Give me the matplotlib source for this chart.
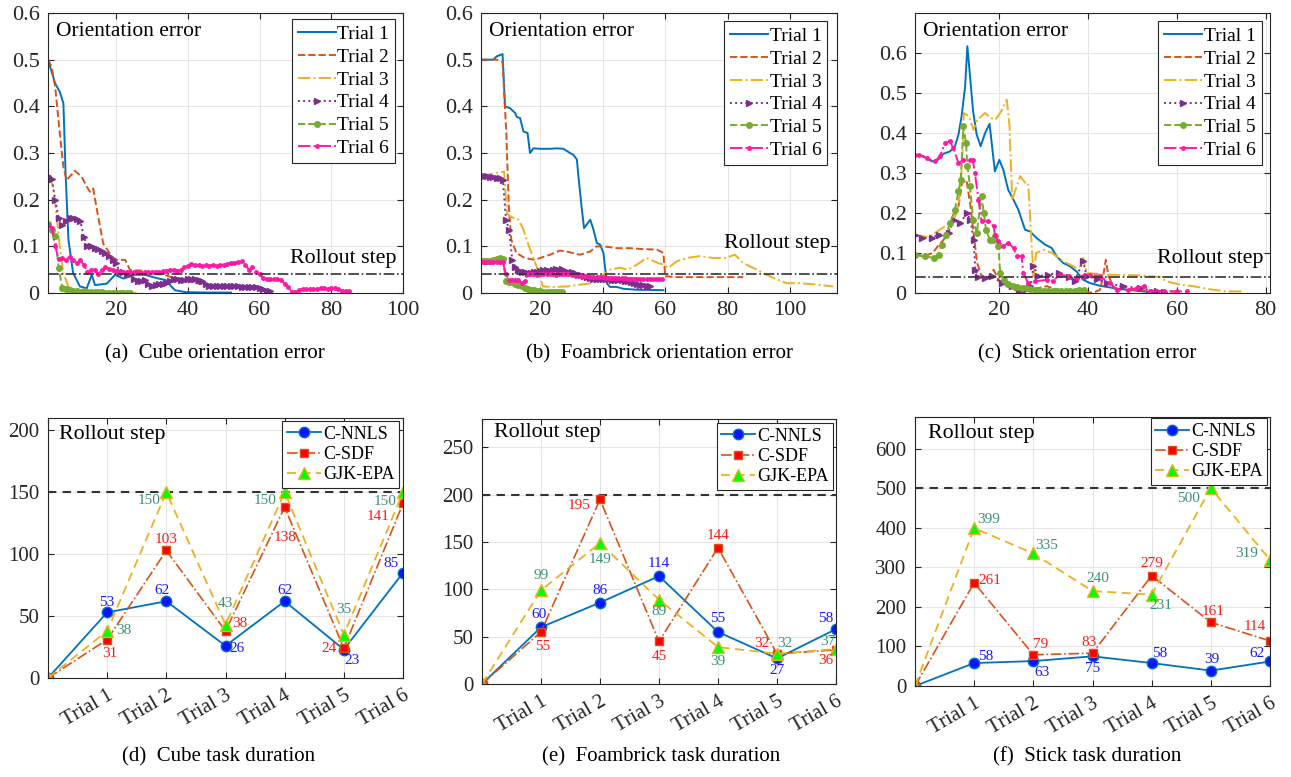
import matplotlib
matplotlib.use('Agg')
import matplotlib.pyplot as plt
import numpy as np

plt.rcParams['font.family'] = ['Liberation Serif', 'DejaVu Serif']

W, H = 1291, 777

trial_names = ['Trial 1', 'Trial 2', 'Trial 3', 'Trial 4', 'Trial 5', 'Trial 6']

# ---------- (a) cube orientation error ----------
cube_t1_x = [1, 3, 4.3, 5.3, 5.9, 6.7, 8, 9.9, 11.8, 13.2, 14.1, 17.4, 19.7, 22, 25.3, 28, 31.8, 33.7, 36.4, 39.2, 45, 52]
cube_t1_y = [0.5, 0.449, 0.431, 0.406, 0.257, 0.114, 0.043, 0.014, 0.01, 0.039, 0.017, 0.02, 0.039, 0.031, 0.039, 0.039,
             0.031, 0.028, 0.006, 0.002, 0.001, 0.001]
cube_t2_x = [1, 2, 3, 4.1, 5.3, 6.2, 8.5, 10.4, 11.8, 12.7, 13.6, 15, 16.4, 18.8, 20.2, 22.5, 23.9, 27, 30, 33, 37, 40,
             43, 48, 52, 57, 61]
cube_t2_y = [0.5, 0.485, 0.442, 0.356, 0.27, 0.242, 0.262, 0.249, 0.228, 0.217, 0.224, 0.163, 0.106, 0.078, 0.071, 0.071,
             0.049, 0.048, 0.04, 0.04, 0.03, 0.025, 0.02, 0.015, 0.015, 0.013, 0.008]
cube_t3_x = [1, 2.5, 3.4, 4.3, 5.3, 6.7, 8.6, 12, 18, 26]
cube_t3_y = [0.25, 0.228, 0.163, 0.099, 0.042, 0.014, 0.004, 0.002, 0.001, 0.001]
cube_t4_y = [0.25, 0.245, 0.2, 0.16, 0.145, 0.155, 0.16, 0.16, 0.158, 0.155, 0.12, 0.1, 0.1, 0.097, 0.095, 0.09, 0.085,
             0.08, 0.07, 0.065, 0.045, 0.045, 0.04, 0.04, 0.03, 0.025, 0.025, 0.028, 0.02, 0.015, 0.018, 0.02, 0.02,
             0.022, 0.025, 0.03, 0.03, 0.028, 0.028, 0.03, 0.03, 0.03, 0.028, 0.025, 0.02, 0.015, 0.015, 0.015, 0.015,
             0.014, 0.014, 0.015, 0.014, 0.014, 0.013, 0.013, 0.013, 0.012, 0.012, 0.01, 0.008, 0.005, 0.005]
cube_t5_y = [0.147, 0.136, 0.122, 0.053, 0.01, 0.008, 0.006, 0.004, 0.004, 0.003, 0.004, 0.003, 0.002, 0.002, 0.002,
             0.002, 0.001, 0.001, 0.001, 0.001, 0.001, 0.001, 0.001, 0.001]
cube_t6_y = [0.145, 0.14, 0.1, 0.072, 0.075, 0.07, 0.078, 0.07, 0.065, 0.07, 0.06, 0.045, 0.05, 0.05, 0.04, 0.05, 0.055,
             0.052, 0.05, 0.048, 0.045, 0.045, 0.044, 0.045, 0.044, 0.045, 0.043, 0.045, 0.044, 0.045, 0.046, 0.045,
             0.047, 0.048, 0.05, 0.05, 0.048, 0.05, 0.055, 0.058, 0.062, 0.06, 0.06, 0.058, 0.06, 0.058, 0.06, 0.058,
             0.06, 0.06, 0.062, 0.065, 0.065, 0.066, 0.068, 0.06, 0.05, 0.055, 0.045, 0.04, 0.032, 0.03, 0.03, 0.03,
             0.03, 0.028, 0.02, 0.012, 0.003, 0.002, 0.006, 0.008, 0.008, 0.009, 0.008, 0.009, 0.01, 0.01, 0.009, 0.01,
             0.01, 0.008, 0.005, 0.005, 0.005]

# ---------- (b) foambrick orientation error ----------
foam_t1_x = [1, 5, 6, 7.9, 8.7, 10.3, 11.9, 12.5, 13.5, 14.6, 15.9, 16.7, 17.8, 19.9, 23.1, 25.3, 27.4, 29.5, 30.6,
             31.7, 32.2, 33.3, 34, 36, 37, 38.1, 39.1, 40.2, 41.3, 42.3, 44.5, 46.6, 50.9, 59.4]
foam_t1_y = [0.5, 0.5, 0.507, 0.512, 0.4, 0.396, 0.386, 0.377, 0.375, 0.346, 0.343, 0.3, 0.31, 0.309, 0.309, 0.31, 0.309,
             0.3, 0.296, 0.286, 0.25, 0.179, 0.139, 0.157, 0.136, 0.107, 0.104, 0.086, 0.021, 0.013, 0.013, 0.009,
             0.007, 0.006]
foam_t2_x = [1, 6, 7.9, 9.1, 9.9, 10.7, 12.3, 15, 18.2, 19.9, 23.1, 26.3, 29, 32.7, 36, 38, 40.2, 44.5, 48.8, 53, 57.3,
             59.4, 60, 63.7, 70, 80.8, 85]
foam_t2_y = [0.5, 0.5, 0.495, 0.343, 0.186, 0.114, 0.086, 0.075, 0.071, 0.075, 0.082, 0.091, 0.088, 0.082, 0.089, 0.1,
             0.1, 0.096, 0.096, 0.094, 0.093, 0.086, 0.036, 0.034, 0.034, 0.034, 0.034]
foam_t3_x = [1, 5.5, 8.4, 9.3, 10.4, 13, 14.6, 16, 17.6, 19.6, 20.8, 24.2, 28.5, 32.7, 37, 38, 40.2, 42.3, 45.5, 48, 51,
             54, 57.8, 59.4, 61, 63.7, 66.9, 71, 75.4, 79.1, 82.3, 85, 89.3, 92.5, 95.7, 98.9, 103.2, 108.5, 113.8]
foam_t3_y = [0.25, 0.257, 0.26, 0.171, 0.164, 0.157, 0.136, 0.107, 0.078, 0.043, 0.014, 0.013, 0.014, 0.018, 0.021, 0.03,
             0.039, 0.05, 0.054, 0.05, 0.061, 0.075, 0.064, 0.061, 0.054, 0.068, 0.075, 0.079, 0.075, 0.075, 0.082,
             0.064, 0.05, 0.039, 0.029, 0.021, 0.021, 0.018, 0.014]
foam_t4_y = [0.25, 0.25, 0.25, 0.249, 0.248, 0.247, 0.246, 0.243, 0.157, 0.136, 0.071, 0.055, 0.05, 0.046, 0.044, 0.043,
             0.043, 0.044, 0.046, 0.048, 0.05, 0.049, 0.048, 0.05, 0.051, 0.05, 0.052, 0.048, 0.046, 0.045, 0.042,
             0.039, 0.038, 0.036, 0.035, 0.033, 0.031, 0.031, 0.03, 0.03, 0.029, 0.029, 0.028, 0.028, 0.027, 0.027,
             0.026, 0.025, 0.024, 0.022, 0.02, 0.018, 0.017, 0.016, 0.015]
foam_t5_y = [0.068, 0.068, 0.069, 0.069, 0.07, 0.072, 0.074, 0.072, 0.025, 0.024, 0.023, 0.02, 0.017, 0.014, 0.011,
             0.009, 0.007, 0.006, 0.005, 0.004, 0.003, 0.003, 0.002, 0.002, 0.002, 0.002, 0.002]
foam_t6_y = [0.067, 0.067, 0.067, 0.067, 0.067, 0.067, 0.067, 0.066, 0.04, 0.028, 0.027, 0.027, 0.028, 0.022, 0.025,
             0.04, 0.041, 0.04, 0.039, 0.04, 0.04, 0.041, 0.04, 0.04, 0.039, 0.04, 0.041, 0.04, 0.04, 0.039, 0.038,
             0.038, 0.037, 0.036, 0.036, 0.035, 0.035, 0.034, 0.034, 0.034, 0.033, 0.033, 0.033, 0.032, 0.032, 0.032,
             0.032, 0.031, 0.031, 0.031, 0.031, 0.03, 0.03, 0.03, 0.03, 0.03, 0.03, 0.03, 0.03]

# ---------- (c) stick orientation error ----------
stick_t1_x = [1, 2.9, 4.8, 6.2, 7.4, 8.9, 10, 10.8, 11.5, 12.3, 12.8, 13.4, 14.1, 14.9, 15.8, 16.8, 17.8, 19, 20, 20.9,
              22, 23.2, 24.3, 25.8, 26.9, 28.4, 30.3, 31.8, 32.9, 34.4, 35.9, 37.4, 38.9, 40.4, 42.7, 45.7, 48.7, 52.5,
              55.5]
stick_t1_y = [0.346, 0.342, 0.329, 0.333, 0.348, 0.354, 0.367, 0.396, 0.442, 0.517, 0.617, 0.542, 0.454, 0.396, 0.367,
              0.4, 0.423, 0.304, 0.333, 0.308, 0.258, 0.233, 0.208, 0.158, 0.154, 0.1375, 0.121, 0.1125, 0.092, 0.075,
              0.067, 0.054, 0.033, 0.025, 0.018, 0.0125, 0.008, 0.004, 0.0]
stick_t2_x = [1, 3, 5, 6, 8, 9.7, 10.8, 11.6, 12.6, 13.5, 14.2, 15, 16, 17.2, 18.7, 20, 21.7, 23.2, 27, 30.7, 33, 37,
              41.2, 42.7, 43.4, 44, 44.6, 46, 47.2, 50, 55, 60]
stick_t2_y = [0.095, 0.092, 0.1, 0.115, 0.14, 0.183, 0.217, 0.275, 0.283, 0.217, 0.15, 0.075, 0.042, 0.033, 0.058, 0.03,
              0.017, 0.008, 0.008, 0.017, 0.008, 0.002, 0.001, 0.008, 0.042, 0.083, 0.042, 0.01, 0.017, 0.008, 0.005,
              0.003]
stick_t3_x = [1, 4, 6, 7.8, 9.7, 10.8, 11.6, 12, 13.1, 14.2, 15, 16.8, 18, 19.1, 20.2, 21.7, 22.3, 22.9, 24.7, 25.9,
              26.5, 27.4, 27.7, 28.3, 30, 31.9, 33.4, 35.2, 37.4, 38.2, 38.9, 39.7, 44.2, 51.7, 56.2, 57.7, 60.7, 63.7,
              68.2, 71.2, 75]
stick_t3_y = [0.145, 0.14, 0.154, 0.167, 0.183, 0.22, 0.317, 0.45, 0.442, 0.408, 0.433, 0.45, 0.438, 0.433, 0.45, 0.483,
              0.417, 0.233, 0.292, 0.275, 0.275, 0.1, 0.042, 0.1, 0.108, 0.1, 0.087, 0.075, 0.0625, 0.067, 0.088, 0.05,
              0.046, 0.044, 0.04, 0.029, 0.021, 0.017, 0.008, 0.004, 0.004]
stick_t4_x = [1, 2.6, 4.8, 6.3, 8.6, 9.7, 11.2, 12.7, 13.5, 14.2, 14.6, 15.3, 16.8, 18.3, 20.6, 22.9, 24.4, 25.9, 27,
              27.7, 28.8, 31, 33.4, 35.6, 37, 38.9, 39.7, 42, 44.2, 47.9, 51.7, 55.5, 57]
stick_t4_y = [0.146, 0.1375, 0.1375, 0.146, 0.15, 0.183, 0.175, 0.2, 0.183, 0.133, 0.058, 0.04, 0.038, 0.042, 0.025,
              0.017, 0.004, 0.008, 0.017, 0.067, 0.042, 0.046, 0.05, 0.04, 0.03, 0.08, 0.042, 0.035, 0.025, 0.017, 0.012,
              0.004, 0.003]
stick_t5_x = [1, 3.3, 5.2, 6.3, 7, 8, 8.9, 10, 10.8, 11.3, 11.9, 12.5, 12.8, 13.4, 14.1, 14.9, 16, 16.5, 17, 17.9, 18.5,
              19, 19.8, 20.2, 21, 22, 23, 24, 25, 26, 27, 28, 29, 30, 31, 32, 33, 34, 35, 36, 37, 38, 39]
stick_t5_y = [0.096, 0.092, 0.0875, 0.096, 0.121, 0.146, 0.175, 0.208, 0.254, 0.283, 0.417, 0.375, 0.317, 0.267, 0.183,
              0.15, 0.242, 0.2, 0.158, 0.133, 0.133, 0.142, 0.117, 0.05, 0.033, 0.022, 0.017, 0.015, 0.013, 0.012, 0.01,
              0.008, 0.007, 0.006, 0.006, 0.006, 0.006, 0.006, 0.006, 0.006, 0.006, 0.007, 0.007]
stick_t6_x = [1, 2, 3.6, 5.5, 6.6, 7.8, 8.9, 9.6, 10.8, 11.9, 13.4, 14, 14.5, 15.3, 16, 17.5, 18.7, 19, 19.8, 20.9, 22,
              23.2, 23.9, 25, 25.4, 26.5, 28, 30.7, 32, 33.7, 35.6, 37.4, 38.9, 40.4, 42.7, 44.9, 46.5, 49, 51, 52.5, 54,
              57, 60, 62.2]
stick_t6_y = [0.346, 0.344, 0.3375, 0.329, 0.342, 0.375, 0.379, 0.363, 0.325, 0.333, 0.332, 0.333, 0.3, 0.233, 0.179,
              0.179, 0.167, 0.146, 0.129, 0.117, 0.125, 0.1125, 0.092, 0.092, 0.05, 0.025, 0.029, 0.033, 0.03, 0.046,
              0.042, 0.0375, 0.042, 0.046, 0.042, 0.025, 0.008, 0.008, 0.0125, 0.017, 0.006, 0.005, 0.004, 0.004]

rollout_err = 0.04

# ---------- (d)-(f) task duration ----------
methods = ['C-NNLS', 'C-SDF', 'GJK-EPA']
cube_nnls = [0, 53, 62, 26, 62, 23, 85]
cube_sdf = [0, 31, 103, 38, 138, 24, 141]
cube_gjk = [0, 38, 150, 43, 150, 35, 150]
foam_nnls = [0, 60, 86, 114, 55, 27, 58]
foam_sdf = [0, 55, 195, 45, 144, 32, 36]
foam_gjk = [0, 99, 149, 89, 39, 32, 37]
stick_nnls = [0, 58, 63, 75, 58, 39, 62]
stick_sdf = [0, 261, 79, 83, 279, 161, 114]
stick_gjk = [0, 399, 335, 240, 231, 500, 319]
rollout_steps = [150, 200, 500]

# ---------- styles ----------
trial_colors = ['#0072BD', '#D95319', '#EDB120', '#7E2F8E', '#77AC30', '#FF19A6']
trial_ls = ['-', '--', '-.', ':', '--', '-.']
trial_mk = ['None', 'None', 'None', '>', 'o', '.']
trial_ms = [0, 0, 0, 4, 4, 5]
label_colors = ['#1A1AFF', '#FF1A1A', '#3F8F7A']


def box(l, t, r, b):
    return [l / W, 1 - b / H, (r - l) / W, (b - t) / H]


def style_axes(ax, size):
    ax.grid(True, color='#e6e6e6', linewidth=0.8)
    ax.set_axisbelow(True)
    for s in ax.spines.values():
        s.set_color('#262626')
        s.set_linewidth(0.8)
    ax.tick_params(direction='in', top=True, right=True, labelsize=size, colors='#262626',
                   length=4, width=0.8, pad=6)


fig = plt.figure(figsize=(W / 100, H / 100), dpi=100)

top_panels = [
    (box(48, 13, 403, 293), [(cube_t1_x, cube_t1_y), (cube_t2_x, cube_t2_y), (cube_t3_x, cube_t3_y),
                             (None, cube_t4_y), (None, cube_t5_y), (None, cube_t6_y)],
     (1, 100), 0.6, 0.075, (0.978, 0.977), '(a)  Cube orientation error', 215),
    (box(481, 13, 837, 293), [(foam_t1_x, foam_t1_y), (foam_t2_x, foam_t2_y), (foam_t3_x, foam_t3_y),
                              (None, foam_t4_y), (None, foam_t5_y), (None, foam_t6_y)],
     (1, 115), 0.6, 0.107, (0.973, 0.97), '(b)  Foambrick orientation error', 660),
    (box(915, 13, 1270, 293), [(stick_t1_x, stick_t1_y), (stick_t2_x, stick_t2_y), (stick_t3_x, stick_t3_y),
                               (stick_t4_x, stick_t4_y), (stick_t5_x, stick_t5_y), (stick_t6_x, stick_t6_y)],
     (1, 81), 0.7, 0.0875, (0.977, 0.97), '(c)  Stick orientation error', 1087),
]

for pos, series, xl, ytop, ry, leg_anchor, caption, cx in top_panels:
    ax = fig.add_axes(pos)
    style_axes(ax, 16)
    for i, (xs, ys) in enumerate(series):
        if xs is None:
            xs = np.arange(1, len(ys) + 1)
        ax.plot(xs, ys, color=trial_colors[i], linestyle=trial_ls[i], linewidth=1.4,
                marker=trial_mk[i], markersize=trial_ms[i], markerfacecolor=trial_colors[i],
                markeredgecolor=trial_colors[i], label=trial_names[i])
    ax.axhline(rollout_err, color='#333333', linestyle='-.', linewidth=1.2)
    ax.set_xlim(*xl)
    ax.set_ylim(0, ytop)
    ax.set_xticks([t for t in [20, 40, 60, 80, 100] if t <= xl[1]])
    ax.set_yticks(np.round(np.arange(0, 0.61, 0.1), 1))
    ax.set_yticklabels(['0', '0.1', '0.2', '0.3', '0.4', '0.5', '0.6'])
    ax.text(0.022, 0.935, 'Orientation error', transform=ax.transAxes, fontsize=15.5, va='center', ha='left')
    ax.text(0.982, ry, 'Rollout step', transform=ax.get_yaxis_transform(), fontsize=15.8, va='center', ha='right')
    leg = ax.legend(loc='upper right', bbox_to_anchor=leg_anchor, borderaxespad=0, fontsize=14,
                    handlelength=1.95, handletextpad=0.1, labelspacing=0.27, borderpad=0.3,
                    fancybox=False, framealpha=1, edgecolor='#262626')
    leg.get_frame().set_linewidth(0.8)
    fig.text(cx / W, 1 - 354 / H, caption, fontsize=15, ha='center', va='center')

bottom_panels = [
    (box(48, 418, 403, 678), cube_nnls, cube_sdf, cube_gjk, rollout_steps[0], 210, 50, (0.989, 0.988),
     [(0, 10), (-4, 11), (12, -3), (0, 11), (8, -11), (-12, 9)],
     [(3, -14), (0, 11), (14, 7), (0, -30), (-15, 0), (-25, -13)],
     [(17, 0), (-17, -8), (0, 21), (-20, -8), (0, 25), (-18, -9)],
     (0.032, 0.935), '(d)  Cube task duration', 219),
    (box(482, 419, 836, 684), foam_nnls, foam_sdf, foam_gjk, rollout_steps[1], 280, 50, (0.992, 0.984),
     [(-2, 13), (0, 12), (0, 13), (0, 13), (0, -12), (-10, 11)],
     [(2, -15), (-21, -6), (0, -15), (0, 12), (-15, 10), (-10, -11)],
     [(0, 15), (0, -17), (0, -12), (0, -14), (8, 10), (-8, 7)],
     (0.034, 0.948), '(e)  Foambrick task duration', 661),
    (box(915, 417, 1270, 686), stick_nnls, stick_sdf, stick_gjk, rollout_steps[2], 680, 100, (0.992, 0.995),
     [(12, 7), (9, -11), (0, -12), (8, 10), (1, 11), (-13, 8)],
     [(16, 2), (7, 10), (-3, 11), (0, 12), (2, 11), (-15, 14)],
     [(14, 9), (13, 8), (5, 13), (9, -11), (-22, -10), (-23, 6)],
     (0.038, 0.94), '(f)  Stick task duration', 1087),
]

for (pos, nnls, sdf, gjk, roll, ytop, ystep, leg_anchor, off_n, off_s, off_g, rpos, caption, cx) in bottom_panels:
    ax = fig.add_axes(pos)
    style_axes(ax, 15)
    xs = np.arange(len(nnls))
    ax.axhline(roll, color='#333333', linestyle='--', linewidth=1.5, dashes=(4, 3))
    ax.plot(xs, nnls, color='#0072BD', linestyle='-', linewidth=1.3, marker='o', markersize=7.5,
            markerfacecolor='#0A14FF', markeredgecolor='#0072BD', label=methods[0])
    ax.plot(xs, sdf, color='#D95319', linestyle='-.', linewidth=1.2, marker='s', markersize=6,
            markerfacecolor='#FF0000', markeredgecolor='#D95319', label=methods[1])
    ax.plot(xs, gjk, color='#EDB120', linestyle='--', linewidth=1.3, marker='^', markersize=8,
            markerfacecolor='#00FF00', markeredgecolor='#EDB120', label=methods[2], dashes=(5, 3))
    for vals, offs, col in [(nnls, off_n, label_colors[0]), (sdf, off_s, label_colors[1]), (gjk, off_g, label_colors[2])]:
        for k in range(1, len(vals)):
            ax.annotate(str(vals[k]), (xs[k], vals[k]), xytext=(offs[k - 1][0] * 0.72, offs[k - 1][1] * 0.72),
                        textcoords='offset points', ha='center', va='center', fontsize=11, color=col)
    ax.set_xlim(0, 6)
    ax.set_ylim(0, ytop)
    ax.set_yticks(np.arange(0, ytop, ystep))
    ax.set_xticks(xs)
    ax.set_xticklabels([''] + trial_names, rotation=30, ha='right', rotation_mode='anchor')
    ax.text(rpos[0], rpos[1], 'Rollout step', transform=ax.transAxes, fontsize=15.8, va='center', ha='left')
    leg = ax.legend(loc='upper right', bbox_to_anchor=leg_anchor, borderaxespad=0, fontsize=13,
                    handlelength=1.9, handletextpad=0.1, labelspacing=0.18, borderpad=0.25,
                    fancybox=False, framealpha=1, edgecolor='#262626')
    leg.get_frame().set_linewidth(0.8)
    fig.text(cx / W, 1 - 757 / H, caption, fontsize=15, ha='center', va='center')

fig.savefig('out.png', dpi=100)
